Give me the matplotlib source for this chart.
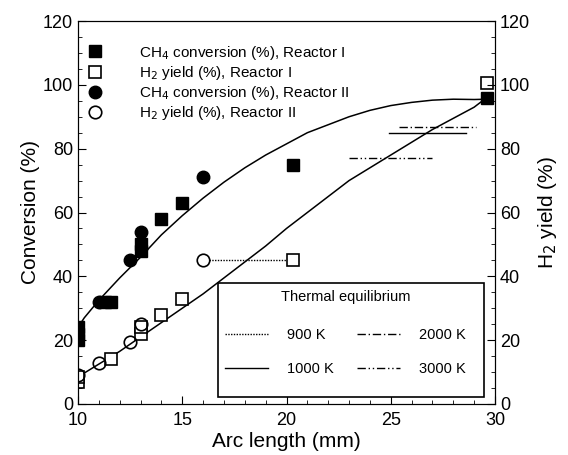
import matplotlib
matplotlib.use("Agg")
import matplotlib.pyplot as plt
from matplotlib.patches import Rectangle
from matplotlib.ticker import MultipleLocator

plt.rcParams["font.family"] = ["Liberation Sans", "DejaVu Sans"]

# ---- data ----------------------------------------------------------------
# CH4 conversion, Reactor I (filled squares)
ch4_r1_x = [10, 10, 10, 11.3, 11.6, 13, 13, 14, 15, 20.3, 29.6]
ch4_r1_y = [20, 22, 24, 32, 32, 48, 50, 58, 63, 75, 96]
# H2 yield, Reactor I (open squares)
h2_r1_x = [10, 10, 11.6, 13, 13, 14, 15, 20.3, 29.6]
h2_r1_y = [7, 8.5, 14, 22, 24, 28, 33, 45, 100.5]
# CH4 conversion, Reactor II (filled circles)
ch4_r2_x = [11, 12.5, 13, 16]
ch4_r2_y = [32, 45, 54, 71]
# H2 yield, Reactor II (open circles)
h2_r2_x = [10, 11, 12.5, 13, 16]
h2_r2_y = [9, 13, 19.5, 25, 45]

# fitted trend curves (read point by point)
fit_conv_x = [10, 10.3, 11, 12, 13, 14, 15, 16, 17, 18, 19, 20, 21, 22, 23, 24, 25, 26, 27, 28, 29, 29.6]
fit_conv_y = [24, 27, 32.5, 39.5, 46, 53, 59, 64.5, 69.5, 74, 78, 81.5, 85, 87.5, 90, 92, 93.5, 94.5, 95.2, 95.5, 95.4, 95.5]
fit_h2_x = [10, 11, 12, 13, 14, 15, 16, 17, 18, 19, 20, 21, 22, 23, 24, 25, 26, 27, 28, 29, 29.6]
fit_h2_y = [8.5, 12.5, 16.5, 21, 25.5, 30, 34.5, 39.5, 44.5, 49.5, 55, 60, 65, 70, 74, 78, 82, 86, 89.5, 93, 96]

# thermal equilibrium levels
eq_labels = ["900 K", "1000 K", "2000 K", "3000 K"]
eq_x0 = [16.3, 24.9, 25.4, 23.0]
eq_x1 = [20.0, 28.6, 29.1, 27.0]
eq_val = [45, 85, 86.8, 77]
eq_styles = [(0, (1, 1)), "-", (0, (6, 2, 1, 2)), (0, (6, 2, 1, 2, 1, 2))]

fig = plt.figure(figsize=(5.68, 4.55), dpi=100)
ax = fig.add_axes([78 / 568, 51 / 455, 417 / 568, 383 / 455])

ax.plot(fit_conv_x, fit_conv_y, color="black", lw=1.1)
ax.plot(fit_h2_x, fit_h2_y, color="black", lw=1.1)

eq_handles = []
for lab, x0, x1, v, ls in zip(eq_labels, eq_x0, eq_x1, eq_val, eq_styles):
    h, = ax.plot([x0, x1], [v, v], color="black", lw=1.0, linestyle=ls, label=lab)
    eq_handles.append(h)

ms = 8
p1, = ax.plot(ch4_r1_x, ch4_r1_y, "s", ms=ms, mfc="black", mec="black", ls="none",
              label="CH$_4$ conversion (%), Reactor I")
p2, = ax.plot(h2_r1_x, h2_r1_y, "s", ms=ms, mfc="white", mec="black", mew=1.2, ls="none",
              label="H$_2$ yield (%), Reactor I")
p3, = ax.plot(ch4_r2_x, ch4_r2_y, "o", ms=ms + 1, mfc="black", mec="black", ls="none",
              label="CH$_4$ conversion (%), Reactor II")
p4, = ax.plot(h2_r2_x, h2_r2_y, "o", ms=ms + 1, mfc="none", mec="black", mew=1.2, ls="none",
              label="H$_2$ yield (%), Reactor II")

ax.set_xlim(10, 30)
ax.set_ylim(0, 120)
ax.xaxis.set_major_locator(MultipleLocator(5))
ax.xaxis.set_minor_locator(MultipleLocator(1))
ax.yaxis.set_major_locator(MultipleLocator(20))
ax.yaxis.set_minor_locator(MultipleLocator(5))
ax.tick_params(which="both", direction="in", labelsize=13)
ax.tick_params(which="major", length=6)
ax.tick_params(which="minor", length=3)
ax.tick_params(axis="x", pad=6)
ax.set_xlabel("Arc length (mm)", fontsize=15, labelpad=2)
ax.set_ylabel("Conversion (%)", fontsize=15, labelpad=2)

ax2 = ax.twinx()
ax2.set_ylim(0, 120)
ax2.yaxis.set_major_locator(MultipleLocator(20))
ax2.yaxis.set_minor_locator(MultipleLocator(5))
ax2.tick_params(which="both", direction="in", labelsize=13)
ax2.tick_params(which="major", length=6)
ax2.tick_params(which="minor", length=3)
ax2.set_ylabel("H$_2$ yield (%)", fontsize=15, labelpad=4)

leg1 = ax.legend(handles=[p1, p2, p3, p4], loc="upper left", frameon=False,
                 fontsize=11, handlelength=1.0, handletextpad=2.4,
                 borderaxespad=0.2, labelspacing=0.15, bbox_to_anchor=(0.0, 0.965))
ax.add_artist(leg1)

# framed box for the thermal-equilibrium key
box = Rectangle((0.336, 0.018), 0.638, 0.298, transform=ax.transAxes,
                fill=True, facecolor="white", edgecolor="black", lw=1.2, zorder=4)
ax.add_patch(box)
leg2 = ax.legend(handles=eq_handles, ncol=2, title="Thermal equilibrium",
                 loc="upper left", bbox_to_anchor=(0.336, 0.316),
                 fontsize=10.5, title_fontsize=10.5, frameon=False,
                 handlelength=2.95, handletextpad=1.3, columnspacing=1.6,
                 labelspacing=1.4, borderaxespad=0.0, borderpad=0.5)
leg2._legend_box.sep = 17
leg2.set_zorder(5)

fig.savefig("out.png", dpi=100)
